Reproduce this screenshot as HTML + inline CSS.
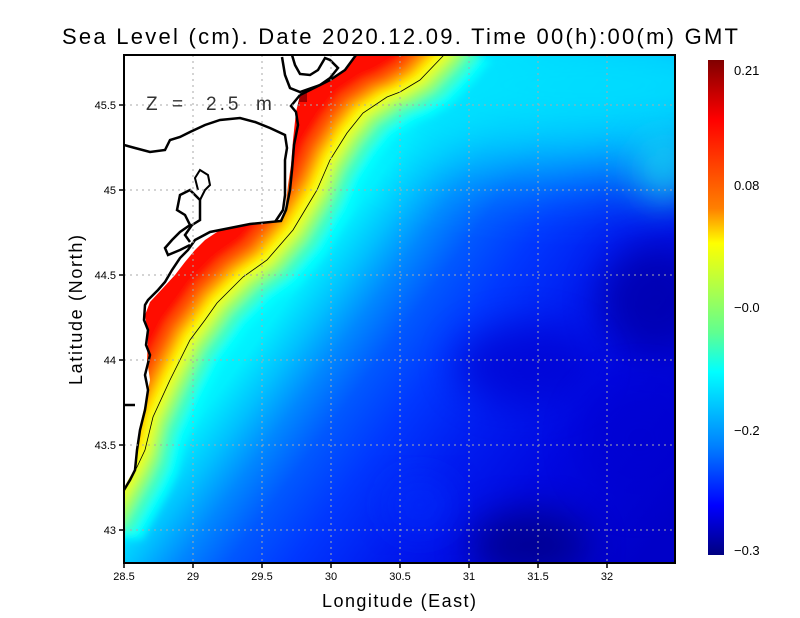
<!DOCTYPE html>
<html><head><meta charset="utf-8"><style>
html,body{margin:0;padding:0;background:#fff;}
svg{display:block;font-family:"Liberation Sans",sans-serif;}
</style></head><body>
<svg width="800" height="618" viewBox="0 0 800 618" xmlns="http://www.w3.org/2000/svg">
<defs>
<linearGradient id="sea" gradientUnits="userSpaceOnUse" x1="105" y1="443" x2="506" y2="742">
<stop offset="0" stop-color="#00ffff"/>
<stop offset="0.12" stop-color="#00f0ff"/>
<stop offset="0.19" stop-color="#00c0ff"/>
<stop offset="0.26" stop-color="#0088ff"/>
<stop offset="0.34" stop-color="#0058ff"/>
<stop offset="0.44" stop-color="#0038ff"/>
<stop offset="0.58" stop-color="#001cf0"/>
<stop offset="0.74" stop-color="#0008e0"/>
<stop offset="1" stop-color="#0000c8"/>
</linearGradient>
<linearGradient id="cb" x1="0" y1="0" x2="0" y2="1">
<stop offset="0" stop-color="#800000"/>
<stop offset="0.12" stop-color="#ff0000"/>
<stop offset="0.3" stop-color="#ff8000"/>
<stop offset="0.37" stop-color="#ffff00"/>
<stop offset="0.55" stop-color="#60ff90"/>
<stop offset="0.63" stop-color="#00ffff"/>
<stop offset="0.78" stop-color="#0080ff"/>
<stop offset="0.9" stop-color="#0000ff"/>
<stop offset="1" stop-color="#000080"/>
</linearGradient>
<filter id="bl" x="-50%" y="-50%" width="200%" height="200%"><feGaussianBlur stdDeviation="35"/></filter>
<filter id="bl2" x="-50%" y="-50%" width="200%" height="200%"><feGaussianBlur stdDeviation="18"/></filter>
<filter id="bl4" filterUnits="userSpaceOnUse" x="0" y="0" width="800" height="618"><feGaussianBlur stdDeviation="4"/></filter>
<clipPath id="pc"><rect x="124" y="55" width="551" height="508"/></clipPath>
</defs>

<g clip-path="url(#pc)">
<rect x="124" y="55" width="551" height="508" fill="url(#sea)"/>
<ellipse cx="580" cy="85" rx="220" ry="85" fill="#00e4ff" filter="url(#bl)" opacity="0.95"/>
<ellipse cx="665" cy="170" rx="30" ry="35" fill="#20f8f0" filter="url(#bl2)" opacity="0.6"/>
<ellipse cx="655" cy="300" rx="55" ry="55" fill="#0000b0" filter="url(#bl2)" opacity="0.9"/>
<ellipse cx="530" cy="545" rx="60" ry="35" fill="#000090" filter="url(#bl2)" opacity="0.9"/>
<ellipse cx="525" cy="365" rx="70" ry="40" fill="#0000d0" filter="url(#bl2)" opacity="0.7"/>
<ellipse cx="640" cy="440" rx="60" ry="60" fill="#0000d0" filter="url(#bl2)" opacity="0.6"/>
<ellipse cx="420" cy="505" rx="30" ry="25" fill="#0030ff" filter="url(#bl2)" opacity="0.6"/>
<g filter="url(#bl4)">
<polygon points="110,515 124,490 137,467 145,450 153,417 170,380 190,340 205,320 217,303 243,277 267,260 293,230 305,210 317,190 330,160 347,133 363,113 387,97 400,92 420,80 443,56 460,35 60,35 60,515" fill="#00ffff" transform="translate(32,24)"/>
<polygon points="110,515 124,490 137,467 145,450 153,417 170,380 190,340 205,320 217,303 243,277 267,260 293,230 305,210 317,190 330,160 347,133 363,113 387,97 400,92 420,80 443,56 460,35 60,35 60,515" fill="#40ffc0" transform="translate(23,17)"/>
<polygon points="110,515 124,490 137,467 145,450 153,417 170,380 190,340 205,320 217,303 243,277 267,260 293,230 305,210 317,190 330,160 347,133 363,113 387,97 400,92 420,80 443,56 460,35 60,35 60,515" fill="#90ff70" transform="translate(14,11)"/>
<polygon points="110,515 124,490 137,467 145,450 153,417 170,380 190,340 205,320 217,303 243,277 267,260 293,230 305,210 317,190 330,160 347,133 363,113 387,97 400,92 420,80 443,56 460,35 60,35 60,515" fill="#d8ff30" transform="translate(7,5)"/>
<polygon points="110,515 124,490 137,467 145,450 153,417 170,380 190,340 205,320 217,303 243,277 267,260 293,230 305,210 317,190 330,160 347,133 363,113 387,97 400,92 420,80 443,56 460,35 60,35 60,515" fill="#ffff00" transform="translate(0,0)"/>
<polygon points="110,515 124,490 137,467 145,450 153,417 170,380 190,340 205,320 217,303 243,277 267,260 293,230 305,210 317,190 330,160 347,133 363,113 387,97 400,92 420,80 443,56 460,35 60,35 60,515" fill="#ffd000" transform="translate(-5,-4)"/>
<polygon points="110,515 124,490 137,467 145,450 153,417 170,380 190,340 205,320 217,303 243,277 267,260 293,230 305,210 317,190 330,160 347,133 363,113 387,97 400,92 420,80 443,56 460,35 60,35 60,515" fill="#ff9000" transform="translate(-10,-7)"/>
<polygon points="110,515 124,490 137,467 145,450 153,417 170,380 190,340 205,320 217,303 243,277 267,260 293,230 305,210 317,190 330,160 347,133 363,113 387,97 400,92 420,80 443,56 460,35 60,35 60,515" fill="#ff5000" transform="translate(-16,-12)"/>
<polygon points="110,515 124,490 137,467 145,450 153,417 170,380 190,340 205,320 217,303 243,277 267,260 293,230 305,210 317,190 330,160 347,133 363,113 387,97 400,92 420,80 443,56 460,35 60,35 60,515" fill="#ff1000" transform="translate(-24,-18)"/>
</g>
<!-- contour line -->
<polyline points="110,515 124,490 137,467 145,450 153,417 170,380 190,340 205,320 217,303 243,277 267,260 293,230 305,210 317,190 330,160 347,133 363,113 387,97 400,92 420,80 443,56 460,35" fill="none" stroke="#000" stroke-width="0.8"/>
<!-- dark red patch -->
<rect x="283" y="78" width="16" height="28" fill="#8a0000"/>
<rect x="297" y="90" width="10" height="12" fill="#a00000"/>
<!-- land -->
<path d="M124,55 L356,55 L345,70 L330,80 L310,90 L300,95 L296,112 L293,140 L291,165 L288,185 L285,210 L280,220 L250,224 L220,230 L205,240 L195,250 L185,262 L175,275 L163,288 L150,302 L145,315 L148,335 L147,360 L150,380 L146,400 L140,425 L137,450 L134,470 L128,480 L124,488 Z" fill="#fff"/>
<path d="M356,55 L345,70 L330,80 L310,90 L300,95" fill="none" stroke="#000" stroke-width="2.5"/>
<path d="M300,95 L291,106 L296,112 L298,125 L294,145 L292,170 L290,190 L286,210 L281,221 L250,224 L225,229 L210,232 L195,240 L188,250 L180,258 L172,270 L165,282 L158,290 L148,300 L145,305 L144,320 L148,330 L146,345 L150,355 L145,375 L148,390 L145,410 L140,430 L137,450 L135,470 L130,480 L124,490" fill="none" stroke="#000" stroke-width="2.5"/>
<path d="M124,145 L135,148 L150,152 L165,150 L170,140 L180,137 L190,132 L205,125 L220,120 L240,118 L255,122 L270,128 L285,135 L287,148 L285,160 L285,175 L285,195 L283,210 L275,222" fill="none" stroke="#000" stroke-width="2.5"/>
<path d="M282,57 L285,75 L290,88 L300,92 L320,85 L330,78 L338,68 L330,60 L325,58 L318,70 L310,75 L300,74 L295,65 L292,55" fill="none" stroke="#000" stroke-width="2.5"/>
<path d="M190,242 L185,235 L192,225 L200,220 L200,200 L190,190 L180,195 L177,210 L185,215 L190,225 L180,232 L172,240 L165,248 L168,255 L180,250 L190,245" fill="none" stroke="#000" stroke-width="2.5"/>
<path d="M200,200 L205,190 L210,185 L208,175 L200,170 L195,178 L198,190" fill="none" stroke="#000" stroke-width="2"/>
<path d="M124,405 L135,405" fill="none" stroke="#000" stroke-width="2.5"/>
<!-- grid -->
<g stroke="#aaa" stroke-width="1" stroke-dasharray="2,4">
<line x1="193" y1="55" x2="193" y2="563"/><line x1="262" y1="55" x2="262" y2="563"/>
<line x1="331" y1="55" x2="331" y2="563"/><line x1="400" y1="55" x2="400" y2="563"/>
<line x1="469" y1="55" x2="469" y2="563"/><line x1="538" y1="55" x2="538" y2="563"/>
<line x1="607" y1="55" x2="607" y2="563"/>
<line x1="124" y1="105" x2="675" y2="105"/><line x1="124" y1="190" x2="675" y2="190"/>
<line x1="124" y1="275" x2="675" y2="275"/><line x1="124" y1="360" x2="675" y2="360"/>
<line x1="124" y1="445" x2="675" y2="445"/><line x1="124" y1="530" x2="675" y2="530"/>
</g>
<g font-size="19" fill="#333">
<text x="146" y="110">Z</text><text x="172" y="110">=</text><text x="206" y="110" letter-spacing="3">2.5</text><text x="256" y="110">m</text>
</g>
</g>
<rect x="124" y="55" width="551" height="508" fill="none" stroke="#000" stroke-width="2"/>
<!-- ticks -->
<g stroke="#000" stroke-width="1.5">
<line x1="124" y1="563" x2="124" y2="568"/><line x1="193" y1="563" x2="193" y2="568"/><line x1="262" y1="563" x2="262" y2="568"/><line x1="331" y1="563" x2="331" y2="568"/><line x1="400" y1="563" x2="400" y2="568"/><line x1="469" y1="563" x2="469" y2="568"/><line x1="538" y1="563" x2="538" y2="568"/><line x1="607" y1="563" x2="607" y2="568"/>
<line x1="119" y1="105" x2="124" y2="105"/><line x1="119" y1="190" x2="124" y2="190"/><line x1="119" y1="275" x2="124" y2="275"/><line x1="119" y1="360" x2="124" y2="360"/><line x1="119" y1="445" x2="124" y2="445"/><line x1="119" y1="530" x2="124" y2="530"/>
</g>
<g font-size="11" fill="#000" text-anchor="middle">
<text x="124" y="580">28.5</text><text x="193" y="580">29</text><text x="262" y="580">29.5</text><text x="331" y="580">30</text><text x="400" y="580">30.5</text><text x="469" y="580">31</text><text x="538" y="580">31.5</text><text x="607" y="580">32</text>
</g>
<g font-size="11" fill="#000" text-anchor="end">
<text x="116" y="109">45.5</text><text x="116" y="194">45</text><text x="116" y="279">44.5</text><text x="116" y="364">44</text><text x="116" y="449">43.5</text><text x="116" y="534">43</text>
</g>
<text x="62" y="44" font-size="22" textLength="676" lengthAdjust="spacing">Sea Level (cm). Date 2020.12.09. Time 00(h):00(m) GMT</text>
<text x="322" y="607" font-size="18" textLength="154" lengthAdjust="spacing">Longitude (East)</text>
<text transform="translate(82,385) rotate(-90)" font-size="18" textLength="150" lengthAdjust="spacing">Latitude (North)</text>
<rect x="708" y="60" width="16" height="495" fill="url(#cb)"/>
<g font-size="13" fill="#000">
<text x="734" y="75">0.21</text><text x="734" y="190">0.08</text><text x="734" y="312">−0.0</text><text x="734" y="435">−0.2</text><text x="734" y="555">−0.3</text>
</g>
</svg>
</body></html>
